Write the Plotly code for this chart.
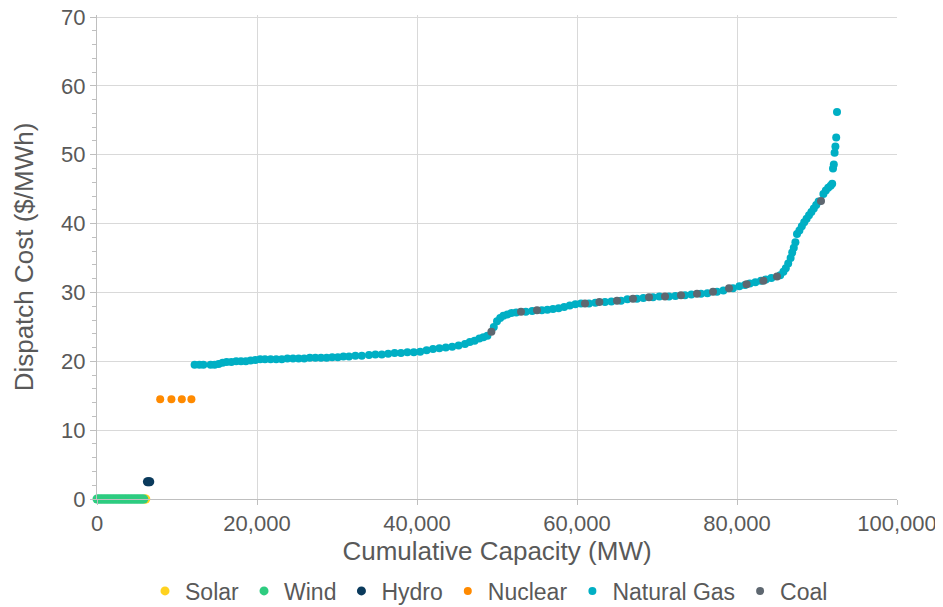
import plotly.graph_objects as go

wind_x = [0, 150, 300, 450, 600, 750, 900, 1050, 1200, 1350, 1500, 1650, 1800, 1950, 2100, 2250, 2400, 2550, 2700, 2850, 3000, 3150, 3300, 3450, 3600, 3750, 3900, 4050, 4200, 4350, 4500, 4650, 4800, 4950, 5100, 5250, 5400, 5550, 5700, 5850]
wind_y = [0] * len(wind_x)
solar_x = [6000, 6100]
solar_y = [0, 0]
hydro_x = [6300, 6450, 6600]
hydro_y = [2.5, 2.5, 2.5]
nuclear_x = [7900, 9300, 10600, 11800]
nuclear_y = [14.5, 14.5, 14.5, 14.5]
gas_x = [12200, 12800, 13300, 14200, 14700, 15200, 15700, 16200, 16800, 17400, 18000, 18600, 19200, 19800, 20400, 21000, 21700, 22400, 23100, 23800, 24500, 25200, 25900, 26600, 27300, 28000, 28700, 29400, 30100, 30800, 31500, 32300, 33100, 34000, 34800, 35600, 36400, 37200, 38000, 38800, 39600, 40400, 41200, 42000, 42800, 43600, 44400, 45200, 46000, 46600, 47200, 47800, 48300, 48800, 49600, 50000, 50400, 50800, 51300, 51800, 52400, 53600, 54400, 55600, 56300, 57000, 57700, 58400, 59100, 59800, 60500, 61500, 62300, 63500, 64300, 65500, 66300, 67500, 68300, 69500, 70300, 71500, 72300, 73500, 74300, 75500, 76300, 77500, 78300, 79500, 80300, 81000, 81600, 82300, 83000, 83600, 84300, 85400, 85800, 86100, 86400, 86700, 86900, 87100, 87300, 87500, 87800, 88100, 88400, 88700, 89000, 89300, 89600, 89900, 90200, 90800, 91100, 91400, 91700, 91900, 92000, 92100, 92200, 92300, 92400, 92500]
gas_y = [19.5, 19.5, 19.5, 19.5, 19.5, 19.6, 19.8, 19.9, 19.9, 20.0, 20.0, 20.0, 20.1, 20.2, 20.3, 20.3, 20.3, 20.3, 20.3, 20.4, 20.4, 20.4, 20.4, 20.5, 20.5, 20.5, 20.5, 20.6, 20.6, 20.7, 20.7, 20.8, 20.8, 20.9, 21.0, 21.0, 21.1, 21.2, 21.2, 21.3, 21.3, 21.4, 21.6, 21.8, 21.9, 22.0, 22.1, 22.3, 22.5, 22.8, 23.0, 23.3, 23.5, 23.7, 25.0, 25.8, 26.3, 26.6, 26.8, 27.0, 27.1, 27.2, 27.3, 27.4, 27.5, 27.6, 27.7, 27.9, 28.1, 28.3, 28.4, 28.4, 28.5, 28.6, 28.7, 28.8, 29.0, 29.1, 29.2, 29.3, 29.4, 29.4, 29.5, 29.6, 29.7, 29.8, 29.9, 30.1, 30.3, 30.6, 30.9, 31.1, 31.3, 31.5, 31.7, 31.9, 32.1, 32.5, 33.0, 33.5, 34.2, 35.0, 35.8, 36.5, 37.3, 38.5, 39.0, 39.6, 40.2, 40.7, 41.2, 41.7, 42.2, 42.7, 43.2, 44.3, 44.8, 45.2, 45.5, 45.8, 48.0, 48.6, 50.3, 51.2, 52.5, 56.2]
coal_x = [49300, 53000, 55000, 61000, 62800, 65000, 67000, 69000, 71000, 73000, 75000, 77000, 79000, 81200, 83300, 85000, 90500]
coal_y = [24.3, 27.2, 27.4, 28.4, 28.6, 28.8, 29.1, 29.3, 29.4, 29.6, 29.8, 30.1, 30.6, 31.2, 31.7, 32.3, 43.3]

fig = go.Figure()
def add(name, x, y, color, size=8):
    fig.add_trace(go.Scatter(x=x, y=y, mode="markers", name=name, cliponaxis=False,
                             marker=dict(color=color, size=size, line=dict(width=0))))
add("Solar", solar_x, solar_y, "#FFD21F", 9)
add("Wind", wind_x, wind_y, "#2ECC80", 9)
add("Hydro", hydro_x, hydro_y, "#0A3A5C", 9)
add("Nuclear", nuclear_x, nuclear_y, "#FF8A00")
add("Natural Gas", gas_x, gas_y, "#00AFC4")
add("Coal", coal_x, coal_y, "#5E6770")

fig.update_layout(
    width=943, height=607, plot_bgcolor="white", paper_bgcolor="white",
    margin=dict(l=89, r=54, t=7, b=116, autoexpand=False),
    font=dict(family="Liberation Sans, Arial", color="#595959", size=22),
    legend=dict(orientation="h", x=0.49, xanchor="center", y=-0.19, yanchor="middle",
                font=dict(size=23), tracegroupgap=0),
    xaxis=dict(range=[0, 100000], dtick=20000, tickformat=",", showgrid=True, automargin=False,
               gridcolor="#D9D9D9", zeroline=False, showline=True, linecolor="#BFBFBF",
               ticks="outside", tickcolor="#BFBFBF", ticklen=5, ticklabeloverflow="allow",
               title=dict(text="Cumulative Capacity (MW)", font=dict(size=26), standoff=6)),
    yaxis=dict(range=[0, 70.3], tick0=0, dtick=10, showgrid=True, gridcolor="#D9D9D9", automargin=False,
               zeroline=False, showline=True, linecolor="#BFBFBF", ticklabeloverflow="allow",
               minor=dict(dtick=2, ticks="outside", ticklen=4, tickcolor="#BFBFBF", showgrid=False),
               ticks="outside", tickcolor="#BFBFBF", ticklen=6,
               title=dict(text="Dispatch Cost ($/MWh)", font=dict(size=26), standoff=20)),
)
fig.write_html("out.html")
